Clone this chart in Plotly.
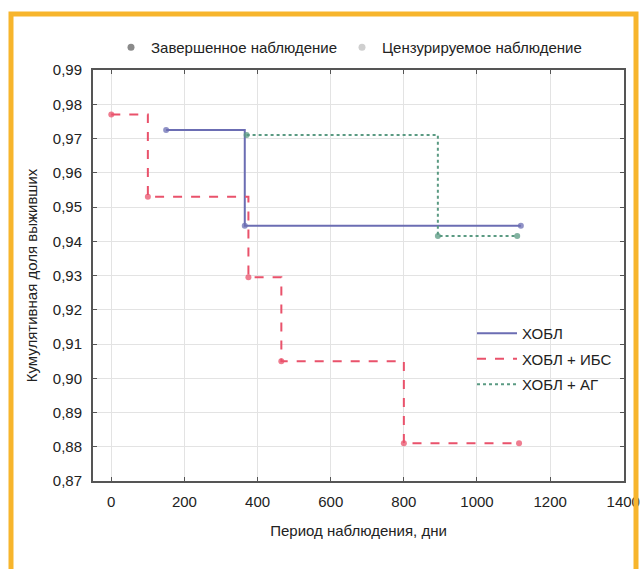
import plotly.graph_objects as go

# ---- data ----
hobl_t = [150, 365, 1120]
hobl_s = [0.9725, 0.9445, 0.9445]

ibs_t = [0, 100, 375, 465, 800, 1115]
ibs_s = [0.977, 0.953, 0.9295, 0.905, 0.881, 0.881]

ag_t = [370, 893, 1110]
ag_s = [0.971, 0.9415, 0.9415]

series_names = ["ХОБЛ", "ХОБЛ + ИБС", "ХОБЛ + АГ"]
top_legend = ["Завершенное наблюдение", "Цензурируемое наблюдение"]

x_ticks = [0, 200, 400, 600, 800, 1000, 1200, 1400]
y_ticks = [0.87, 0.88, 0.89, 0.90, 0.91, 0.92, 0.93, 0.94, 0.95, 0.96, 0.97, 0.98, 0.99]

FONT = "Liberation Sans Narrow, Arial Narrow, Liberation Sans, sans-serif"

W, H = 640, 569
# plot area in page pixels
L, R, T, B = 93, 624, 70, 481

def px(xp):
    return (xp - L) / (R - L)

def py(yp):
    return (B - yp) / (B - T)

fig = go.Figure()

styles = [
    dict(color="#6b6db3", dash="solid", width=2),
    dict(color="#e9526b", dash="dash", width=2),
    dict(color="#5a9a82", dash="dot", width=2),
]
data = [(hobl_t, hobl_s), (ibs_t, ibs_s), (ag_t, ag_s)]

for name, (t, s), st in zip(series_names, data, styles):
    fig.add_trace(go.Scatter(
        x=t, y=s, mode="lines", name=name,
        line=dict(color=st["color"], dash=st["dash"], width=st["width"], shape="hv"),
        legend="legend", legendgroup=name,
    ))
    fig.add_trace(go.Scatter(
        x=t, y=s, mode="markers", name=name, showlegend=False,
        marker=dict(size=6, color=st["color"], opacity=0.75),
        legendgroup=name,
    ))

for name, col in zip(top_legend, ["#8a8a8a", "#cfcfcf"]):
    fig.add_trace(go.Scatter(
        x=[None], y=[None], mode="markers", name=name,
        marker=dict(size=7, color=col), legend="legend2",
    ))

fig.update_layout(
    width=W, height=H,
    margin=dict(l=L, r=W - R, t=T, b=H - B, autoexpand=False),
    paper_bgcolor="white", plot_bgcolor="white",
    separators=", ",
    font=dict(family=FONT, size=15, color="#222"),
    showlegend=True,
    legend=dict(
        x=px(472), y=py(317), xanchor="left", yanchor="top",
        bgcolor="rgba(255,255,255,0)", font=dict(size=15, family=FONT),
        tracegroupgap=3, itemwidth=40,
    ),
    legend2=dict(
        orientation="h", x=px(349), y=py(31), xanchor="center", yanchor="top",
        bgcolor="rgba(255,255,255,0)", font=dict(size=15, family=FONT),
        itemwidth=30,
    ),
    xaxis=dict(
        range=[-50, 1402], tickvals=x_ticks, ticktext=[str(v) for v in x_ticks],
        showgrid=True, gridcolor="#e3e3e3", gridwidth=1,
        showline=True, linecolor="#555", linewidth=2, mirror="ticks",
        ticks="inside", ticklen=4, tickcolor="#555", zeroline=False,
        title=dict(text="Период наблюдения, дни", standoff=16, font=dict(size=15)),
        ticklabelstandoff=6, ticklabeloverflow="allow",
    ),
    yaxis=dict(
        range=[0.87, 0.99], tickvals=y_ticks, tickformat=".2f",
        showgrid=True, gridcolor="#e3e3e3", gridwidth=1,
        showline=True, linecolor="#555", linewidth=2, mirror="ticks",
        ticks="inside", ticklen=4, tickcolor="#555", zeroline=False,
        title=dict(text="Кумулятивная доля выживших", standoff=12, font=dict(size=15)),
        ticklabelstandoff=6,
    ),
    shapes=[
        dict(type="rect", xref="paper", yref="paper",
             x0=px(11), x1=px(636), y0=py(600), y1=py(14),
             line=dict(color="#f7b52c", width=5), fillcolor="rgba(0,0,0,0)",
             layer="above"),
    ],
)

fig.write_html(
    "out.html",
    config={"displayModeBar": False},
    post_script="document.body.style.margin='0';document.body.style.overflow='hidden';",
)
